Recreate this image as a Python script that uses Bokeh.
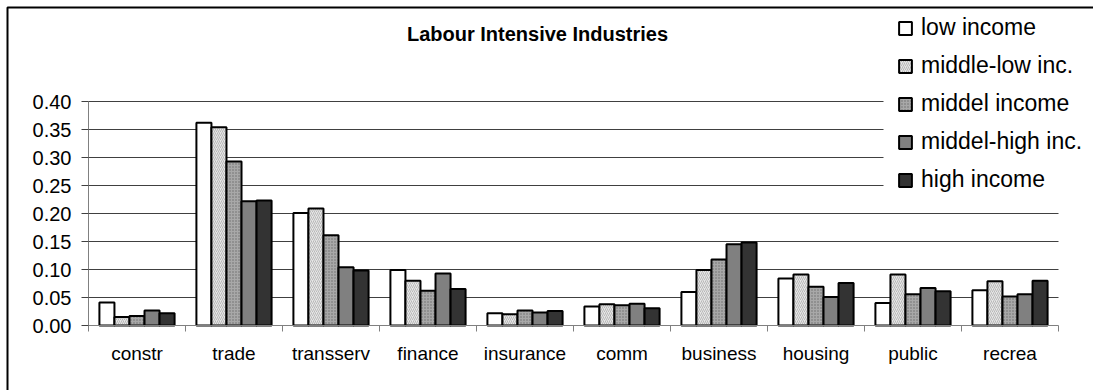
from bokeh.plotting import figure
from bokeh.models import (ColumnDataSource, FixedTicker, Legend, LegendItem,
                          Label, BoxAnnotation, Range1d, NumeralTickFormatter)
from bokeh.embed import file_html
from bokeh.resources import INLINE

# Industry categories
categories = ["constr", "trade", "transserv", "finance", "insurance",
              "comm", "business", "housing", "public", "recrea"]

# Shares per income group
low_income = [0.041, 0.362, 0.201, 0.099, 0.022, 0.034, 0.060, 0.084, 0.040, 0.063]
middle_low_inc = [0.015, 0.354, 0.209, 0.080, 0.020, 0.038, 0.099, 0.091, 0.091, 0.079]
middel_income = [0.017, 0.293, 0.161, 0.062, 0.027, 0.036, 0.118, 0.069, 0.056, 0.052]
middel_high_inc = [0.027, 0.222, 0.104, 0.093, 0.023, 0.039, 0.145, 0.051, 0.067, 0.056]
high_income = [0.022, 0.223, 0.098, 0.065, 0.026, 0.031, 0.148, 0.076, 0.061, 0.080]

series_names = ["low income", "middle-low inc.", "middel income",
                "middel-high inc.", "high income"]
series_values = [low_income, middle_low_inc, middel_income, middel_high_inc, high_income]

y_ticks = [0.0, 0.05, 0.10, 0.15, 0.20, 0.25, 0.30, 0.35, 0.40]
y_max = 0.40

FONT = "Liberation Sans"
W, H = 1093, 390
# plot-area placement inside the canvas (pixels)
PL, PR, PT, PB = 88, 1058, 101, 325
ncat = len(categories)
xs = (PR - PL) / ncat
ys = (PB - PT) / y_max

# the frame spans the whole canvas; axes are pinned at the data origin
p = figure(width=W, height=H, output_backend="svg", toolbar_location=None,
           x_range=Range1d(-PL / xs, ncat + (W - PR) / xs),
           y_range=Range1d(-(H - PB) / ys, y_max + PT / ys),
           min_border=0)
p.outline_line_color = None
p.background_fill_color = "white"
p.border_fill_color = "white"
p.xgrid.visible = False
p.ygrid.visible = False

# horizontal gridlines across the plot area only
grid_src = ColumnDataSource(dict(y=y_ticks[1:], x0=[0] * (len(y_ticks) - 1),
                                 x1=[ncat] * (len(y_ticks) - 1)))
p.segment(x0="x0", x1="x1", y0="y", y1="y", source=grid_src,
          line_color="#404040", line_width=1)

# bar styles per series
styles = [
    dict(fill_color="white"),
    dict(fill_color="#e6e6e6", hatch_pattern="/", hatch_color="#b8b8b8",
         hatch_scale=4, hatch_weight=1),
    dict(fill_color="#a8a8a8", hatch_pattern=".", hatch_color="#6a6a6a",
         hatch_scale=3, hatch_weight=1),
    dict(fill_color="#808080"),
    dict(fill_color="#333333"),
]

bar_w = 0.155
n = len(series_names)
items = []
for k, (name, vals, st) in enumerate(zip(series_names, series_values, styles)):
    offset = (k - (n - 1) / 2) * bar_w
    src = ColumnDataSource(dict(x=[i + 0.5 + offset for i in range(ncat)], top=vals))
    r = p.vbar(x="x", top="top", bottom=0, width=bar_w, source=src,
               line_color="black", line_width=2, **st)
    items.append(LegendItem(label=name, renderers=[r]))

# y axis
yax = p.yaxis[0]
yax.fixed_location = 0
yax.bounds = (0, y_max)
yax.ticker = FixedTicker(ticks=y_ticks)
yax.formatter = NumeralTickFormatter(format="0.00")
yax.axis_line_color = "#808080"
yax.major_tick_line_color = "#404040"
yax.major_tick_out = 7
yax.major_tick_in = 0
yax.minor_tick_line_color = None
yax.major_label_standoff = 10
yax.major_label_text_font = FONT
yax.major_label_text_font_size = "20px"
yax.major_label_text_color = "black"

# x axis: labels at category centres, tick marks at boundaries
centers = [i + 0.5 for i in range(ncat)]
bounds = [float(i) for i in range(ncat + 1)]
xax = p.xaxis[0]
xax.fixed_location = 0
xax.bounds = (0, ncat)
xax.ticker = FixedTicker(ticks=centers, minor_ticks=bounds)
xax.major_label_overrides = {c: name for c, name in zip(centers, categories)}
xax.axis_line_color = "#808080"
xax.major_tick_line_color = None
xax.major_tick_out = 0
xax.major_tick_in = 0
xax.minor_tick_line_color = "#808080"
xax.minor_tick_out = 6
xax.minor_tick_in = 0
xax.major_label_standoff = 11
xax.major_label_text_font = FONT
xax.major_label_text_font_size = "19px"
xax.major_label_text_color = "black"

# title
p.add_layout(Label(x=4.629, y=0.52, text="Labour Intensive Industries",
                   text_align="center", text_baseline="middle",
                   text_font=FONT, text_font_size="20px", text_font_style="bold",
                   text_color="black"))

# white panel behind the legend, hiding the gridlines there
p.add_layout(BoxAnnotation(left=883, right=3000, top=9, bottom=199,
                           left_units="canvas", right_units="canvas",
                           top_units="canvas", bottom_units="canvas",
                           fill_color="white", fill_alpha=1.0,
                           line_color=None, level="annotation"))

# outer chart border
p.add_layout(BoxAnnotation(left=7, right=3000, top=7, bottom=3000,
                           left_units="canvas", right_units="canvas",
                           top_units="canvas", bottom_units="canvas",
                           fill_alpha=0, line_color="black", line_alpha=1.0,
                           line_width=2, level="overlay"))

legend = Legend(items=items, location=(897, 197), padding=4, margin=0,
                spacing=11, glyph_width=16, glyph_height=16, label_height=24,
                label_standoff=8, label_text_font=FONT,
                label_text_font_size="23px", label_text_color="black",
                border_line_color=None, background_fill_alpha=0.0)
p.add_layout(legend, "center")

open("out.html", "w").write(file_html(p, INLINE))
